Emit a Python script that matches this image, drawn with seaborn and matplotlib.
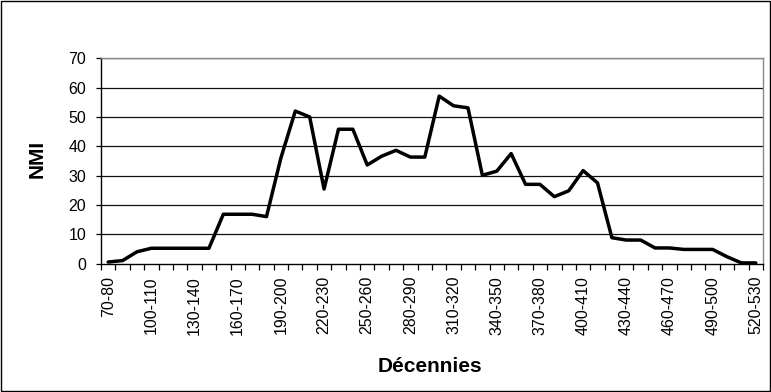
import numpy as np
import pandas as pd
import seaborn as sns
import matplotlib
matplotlib.use("Agg")
import matplotlib.pyplot as plt
from matplotlib.ticker import FixedLocator

starts = list(range(70, 530, 10))
categories = [f"{s}-{s+10}" for s in starts]
nmi = [0.5, 1, 4, 5.2, 5.2, 5.2, 5.2, 5.2, 16.8, 16.8,
       16.8, 16, 36, 52, 50, 25.4, 45.8, 45.8, 33.6, 36.6,
       38.6, 36.3, 36.3, 57.1, 53.8, 53.1, 30.1, 31.5, 37.5, 27,
       27, 22.8, 24.8, 31.7, 27.5, 8.8, 8, 8, 5.3, 5.3,
       4.8, 4.8, 4.8, 2.3, 0.2, 0.2]
y_ticks = [0, 10, 20, 30, 40, 50, 60, 70]

df = pd.DataFrame({"pos": np.arange(len(categories)), "cat": categories, "NMI": nmi})

sns.set_theme(style="white")
plt.rcParams['font.family'] = ['Liberation Sans', 'DejaVu Sans']
plt.rcParams['text.color'] = 'black'
plt.rcParams['axes.labelcolor'] = 'black'
plt.rcParams['xtick.color'] = 'black'
plt.rcParams['ytick.color'] = 'black'

fig = plt.figure(figsize=(7.71, 3.92), dpi=100)
ax = fig.add_axes([101/771, 1-263.5/392, (763-101)/771, (263.5-58.3)/392])

sns.lineplot(data=df, x="pos", y="NMI", ax=ax, color="black", linewidth=2.5)

ax.set_xlim(-0.5, len(categories) - 0.5)
ax.set_ylim(0, 70)
ax.set_yticks(y_ticks)
ax.set_yticklabels([str(v) for v in y_ticks], fontsize=11.5, color="black")
for v in y_ticks[1:]:
    ax.axhline(v, color="#111111", linewidth=0.9, zorder=0)

lab_pos = list(range(0, len(categories), 3))
ax.set_xticks(lab_pos)
ax.set_xticklabels([categories[i] for i in lab_pos], rotation=90, fontsize=11.5, color="black")
ax.tick_params(axis="x", which="major", length=0, pad=9)
ax.xaxis.set_minor_locator(FixedLocator(np.arange(-0.5, len(categories), 1)))
ax.tick_params(axis="x", which="minor", length=4, width=0.9, color="black", direction="out", bottom=True)
ax.tick_params(axis="y", which="major", length=3.6, width=0.9, color="black", direction="out", left=True, pad=7)

for side in ["left", "bottom"]:
    ax.spines[side].set_color("black")
    ax.spines[side].set_linewidth(1.0)
for side in ["top", "right"]:
    ax.spines[side].set_color("#888888")
    ax.spines[side].set_linewidth(1.0)

ax.set_xlabel("Décennies", fontsize=15, fontweight="bold", color="black")
ax.set_ylabel("NMI", fontsize=15, fontweight="bold", color="black")
ax.xaxis.label.set_va("center")
ax.yaxis.label.set_va("center")
ax.yaxis.label.set_ha("center")
ax.xaxis.set_label_coords(0.497, -0.504)
ax.yaxis.set_label_coords(-0.0959, 0.509)

border = plt.Rectangle((0.0007, 0.0013), 0.9986, 0.9974, transform=fig.transFigure,
                       fill=False, edgecolor="black", linewidth=1.0)
fig.patches.append(border)

fig.savefig("out.png", dpi=100)
